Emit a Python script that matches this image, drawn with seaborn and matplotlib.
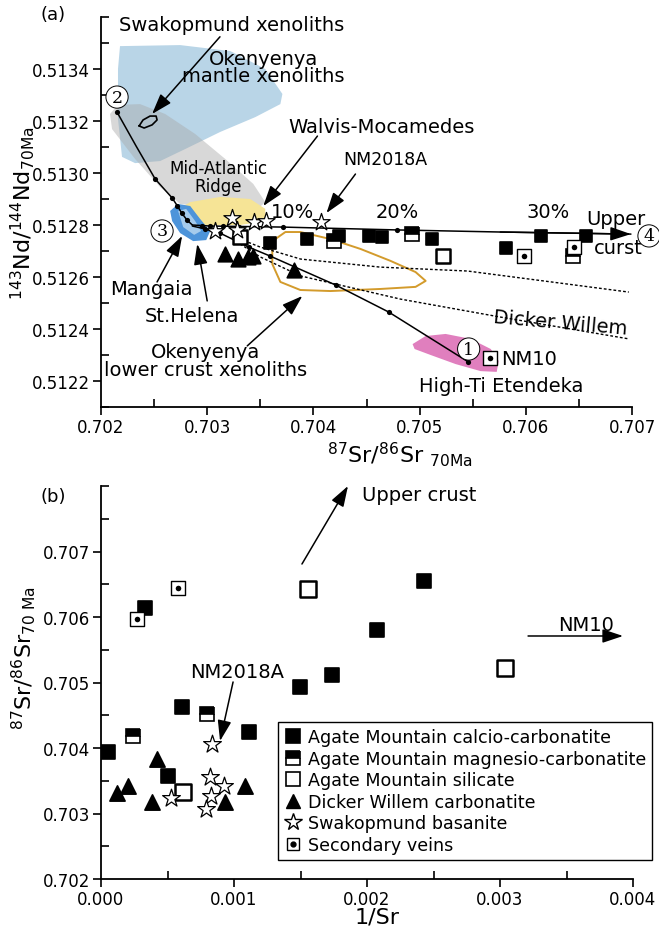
import seaborn as sns
import matplotlib.pyplot as plt
from matplotlib.lines import Line2D
from matplotlib.legend_handler import HandlerTuple
from matplotlib.ticker import FixedLocator, FormatStrFormatter

# ---------------- panel (a): 87Sr/86Sr vs 143Nd/144Nd ----------------
calcio_sr = [0.70359, 0.70394, 0.70424, 0.70452, 0.70465, 0.70512, 0.70581, 0.70614, 0.70657]
calcio_nd = [0.512731, 0.512746, 0.512758, 0.512758, 0.512754, 0.512746, 0.512712, 0.512758, 0.512758]
magnesio_sr = [0.70419, 0.70493, 0.70644]
magnesio_nd = [0.512738, 0.512765, 0.512681]
silicate_sr = [0.70331, 0.70522]
silicate_nd = [0.512754, 0.512681]
dicker_sr = [0.70317, 0.70329, 0.70338, 0.70343, 0.70382]
dicker_nd = [0.512688, 0.512669, 0.512677, 0.512681, 0.512627]
basanite_sr = [0.70307, 0.70323, 0.70328, 0.70344, 0.70355, 0.70407]
basanite_nd = [0.512777, 0.512827, 0.512781, 0.512812, 0.512815, 0.512812]
veins_sr = [0.70598, 0.70645, 0.70566]
veins_nd = [0.512681, 0.512715, 0.512288]

# mixing curves
mix23_sr = [0.70215, 0.70233, 0.70251, 0.70267, 0.70272, 0.70276, 0.70281, 0.70286]
mix23_nd = [0.513235, 0.513104, 0.512977, 0.512904, 0.512873, 0.512846, 0.512819, 0.512800]
mix23_dot_sr = [0.70215, 0.70251, 0.70267, 0.70272, 0.70276, 0.70281]
mix23_dot_nd = [0.513235, 0.512977, 0.512904, 0.512873, 0.512846, 0.512819]
mix34_sr = [0.70286, 0.70303, 0.70371, 0.70479, 0.70576, 0.70699]
mix34_nd = [0.512800, 0.512796, 0.512792, 0.512781, 0.512773, 0.512765]
mix34_dot_sr = [0.70295, 0.70303, 0.70315, 0.70330, 0.70371, 0.70479]
mix34_dot_nd = [0.512798, 0.512796, 0.512795, 0.512794, 0.512792, 0.512781]
mix31_sr = [0.70286, 0.70298, 0.70312, 0.70339, 0.70359, 0.70421, 0.70471, 0.70546]
mix31_nd = [0.512796, 0.512785, 0.512769, 0.512715, 0.512681, 0.512569, 0.512465, 0.512273]
dash_up_sr = [0.70326, 0.70350, 0.70388, 0.70463, 0.70545, 0.70624, 0.70697]
dash_up_nd = [0.512754, 0.512715, 0.512669, 0.512638, 0.512623, 0.512581, 0.512542]
dash_lo_sr = [0.70331, 0.70350, 0.70388, 0.70482, 0.70576, 0.70697]
dash_lo_nd = [0.512727, 0.512677, 0.512604, 0.512515, 0.512446, 0.512362]

# fields
mantle_sr = [0.702179, 0.702745, 0.703217, 0.703547, 0.703708, 0.703689, 0.703453,
             0.703123, 0.702792, 0.702557, 0.702321, 0.702198, 0.702160, 0.702160]
mantle_nd = [0.513488, 0.513492, 0.513469, 0.513400, 0.513304, 0.513265, 0.513215,
             0.513158, 0.513092, 0.513046, 0.513038, 0.513062, 0.513208, 0.513400]
mar_sr = [0.702085, 0.702160, 0.702368, 0.702604, 0.702887, 0.703170, 0.703434,
          0.703547, 0.703453, 0.703123, 0.702745, 0.702557, 0.702321, 0.702104]
mar_nd = [0.513227, 0.513262, 0.513265, 0.513227, 0.513150, 0.513054, 0.512958,
          0.512888, 0.512854, 0.512862, 0.512881, 0.512946, 0.513054, 0.513169]
walvis_sr = [0.702698, 0.702840, 0.703123, 0.703406, 0.703547, 0.703547, 0.703311, 0.702934, 0.702745]
walvis_nd = [0.512854, 0.512888, 0.512908, 0.512900, 0.512862, 0.512815, 0.512800, 0.512800, 0.512815]
helena_sr = [0.702651, 0.702726, 0.702840, 0.702934, 0.703028, 0.702991, 0.702868, 0.702745, 0.702670]
helena_nd = [0.512854, 0.512881, 0.512873, 0.512823, 0.512777, 0.512742, 0.512738, 0.512769, 0.512815]
mangaia_sr = [0.702726, 0.702802, 0.702887, 0.702943, 0.702877, 0.702774]
mangaia_nd = [0.512854, 0.512862, 0.512815, 0.512777, 0.512762, 0.512792]
etendeka_sr = [0.704934, 0.705057, 0.705245, 0.705481, 0.705670, 0.705745, 0.705726,
               0.705575, 0.705340, 0.705104, 0.704953]
etendeka_nd = [0.512342, 0.512373, 0.512381, 0.512362, 0.512323, 0.512277, 0.512235,
               0.512238, 0.512265, 0.512300, 0.512323]
lowcrust_sr = [0.703642, 0.703736, 0.703877, 0.704160, 0.704443, 0.704726, 0.704962, 0.705057,
               0.704962, 0.704632, 0.704160, 0.703877, 0.703689, 0.703613, 0.703613, 0.703642]
lowcrust_nd = [0.512746, 0.512773, 0.512773, 0.512746, 0.512708, 0.512662, 0.512619, 0.512585,
               0.512562, 0.512554, 0.512546, 0.512550, 0.512581, 0.512650, 0.512708, 0.512746]
swak_sr = [0.702359, 0.702396, 0.702462, 0.702519, 0.702528, 0.702481, 0.702406, 0.702359]
swak_nd = [0.513181, 0.513204, 0.513219, 0.513219, 0.513204, 0.513185, 0.513173, 0.513181]

# ---------------- panel (b): 1/Sr vs 87Sr/86Sr ----------------
b_calcio_x = [0.000331, 0.000053, 0.000609, 0.000504, 0.001113, 0.001496, 0.001737, 0.002075, 0.002429]
b_calcio_y = [0.706137, 0.703939, 0.704626, 0.703573, 0.704244, 0.704931, 0.705115, 0.705802, 0.706550]
b_magnesio_x = [0.000241, 0.000797]
b_magnesio_y = [0.704183, 0.704519]
b_silicate_x = [0.000617, 0.001556, 0.003038]
b_silicate_y = [0.703328, 0.706427, 0.705221]
b_dicker_x = [0.000120, 0.000203, 0.000421, 0.000383, 0.000932, 0.001083]
b_dicker_y = [0.703313, 0.703420, 0.703832, 0.703176, 0.703176, 0.703420]
b_basanite_x = [0.000835, 0.000820, 0.000925, 0.000827, 0.000789, 0.000526]
b_basanite_y = [0.704061, 0.703557, 0.703420, 0.703267, 0.703069, 0.703237]
b_veins_x = [0.000271, 0.000579]
b_veins_y = [0.705969, 0.706443]

legend_labels = ['Agate Mountain calcio-carbonatite', 'Agate Mountain magnesio-carbonatite',
                 'Agate Mountain silicate', 'Dicker Willem carbonatite',
                 'Swakopmund basanite', 'Secondary veins']

sns.set_style('ticks')
plt.rcParams['font.family'] = ['DejaVu Sans']
plt.rcParams.update({'text.color': 'k', 'axes.labelcolor': 'k', 'xtick.color': 'k',
                     'ytick.color': 'k', 'axes.edgecolor': 'k'})

W, H = 659, 929
fig = plt.figure(figsize=(W / 100, H / 100), dpi=100)
ax1 = fig.add_axes([101 / W, 1 - 408 / H, 531 / W, 390 / H])
ax2 = fig.add_axes([101 / W, 1 - 880 / H, 532 / W, 393 / H])

SQ = 85
arrow = dict(arrowstyle='-|>,head_length=0.9,head_width=0.3', color='k', lw=1.1,
             mutation_scale=14, shrinkA=0, shrinkB=0)


def points(ax, xs, ys, m, face, size, lw=1.2, z=5):
    sns.scatterplot(x=xs, y=ys, marker=m, s=size, color=face, edgecolor='k',
                    linewidth=lw, ax=ax, zorder=z, legend=False)


def half(ax, xs, ys, ms):
    ax.plot(xs, ys, ls='none', marker='s', ms=ms, fillstyle='top', mfc='k',
            markerfacecoloralt='w', mec='k', mew=1.2, zorder=5)


def veins(ax, xs, ys):
    points(ax, xs, ys, 's', 'w', 95, lw=1.0)
    points(ax, xs, ys, 'o', 'k', 16, lw=0, z=6)


# ---- panel (a) ----
ax = ax1
ax.fill(mantle_sr, mantle_nd, color='#b9d5e7', lw=0, zorder=1)
ax.fill(mar_sr, mar_nd, color='#a9a9a9', alpha=0.45, lw=0, zorder=1.2)
ax.fill(walvis_sr, walvis_nd, color='#f6e496', lw=0, zorder=1.4)
ax.fill(helena_sr, helena_nd, color='#4d94da', lw=0, zorder=1.6)
ax.fill(mangaia_sr, mangaia_nd, color='#a5cbec', lw=0, zorder=1.7)
ax.fill(etendeka_sr, etendeka_nd, color='#e07fbe', lw=0, zorder=1.6)
ax.plot(lowcrust_sr, lowcrust_nd, color='#d39b2c', lw=1.4, zorder=2)
ax.plot(swak_sr, swak_nd, color='k', lw=1.2, zorder=2)

ax.plot(mix23_sr, mix23_nd, color='k', lw=1.1, zorder=3)
ax.plot(mix34_sr, mix34_nd, color='k', lw=1.1, zorder=3)
ax.plot(mix31_sr, mix31_nd, color='k', lw=1.1, zorder=3)
ax.plot(dash_up_sr, dash_up_nd, color='k', lw=1.0, ls=(0, (2, 1.5)), zorder=3)
ax.plot(dash_lo_sr, dash_lo_nd, color='k', lw=1.0, ls=(0, (2, 1.5)), zorder=3)
sns.scatterplot(x=mix23_dot_sr + mix34_dot_sr + mix31_sr[1:], y=mix23_dot_nd + mix34_dot_nd + mix31_nd[1:],
                s=14, color='k', linewidth=0, ax=ax, zorder=3, legend=False)
ax.annotate('', xy=(mix34_sr[-1], mix34_nd[-1]), xytext=(mix34_sr[-2], mix34_nd[-2]),
            arrowprops=arrow, annotation_clip=False)

points(ax, calcio_sr, calcio_nd, 's', 'k', SQ)
half(ax, magnesio_sr, magnesio_nd, 9.5)
points(ax, silicate_sr, silicate_nd, 's', 'w', 110, lw=1.8)
points(ax, dicker_sr, dicker_nd, '^', 'k', 110)
points(ax, basanite_sr, basanite_nd, '*', 'w', 170, lw=0.9)
veins(ax, veins_sr, veins_nd)

fs = 14
ax.annotate('Swakopmund xenoliths', xy=(0.702481, 0.513227), xytext=(0.703226, 0.513573),
            ha='center', va='center', fontsize=fs, arrowprops=arrow, annotation_clip=False)
ax.text(0.703528, 0.513408, 'Okenyenya\nmantle xenoliths', ha='center', va='center',
        fontsize=fs, linespacing=0.85)
ax.text(0.703104, 0.512985, 'Mid-Atlantic\nRidge', ha='center', va='center', fontsize=12,
        linespacing=1.05, zorder=4)
ax.text(0.704642, 0.513177, 'Walvis-Mocamedes', ha='center', va='center', fontsize=fs)
ax.annotate('', xy=(0.703528, 0.512873), xytext=(0.704038, 0.513142), arrowprops=arrow)
ax.text(0.704679, 0.513054, 'NM2018A', ha='center', va='center', fontsize=12.5)
ax.annotate('', xy=(0.704123, 0.512846), xytext=(0.704396, 0.512996), arrowprops=arrow)
for txt, xx in [('10%', 0.703802), ('20%', 0.704792), ('30%', 0.706208)]:
    ax.text(xx, 0.512850, txt, ha='center', va='center', fontsize=fs)
ax.text(0.706849, 0.512825, 'Upper', ha='center', va='center', fontsize=fs)
ax.text(0.706868, 0.512715, 'curst', ha='center', va='center', fontsize=fs)
circ = dict(boxstyle='circle,pad=0.15', fc='white', ec='k', lw=0.7)
for num, xx, yy in [('4', 0.707160, 0.512758), ('3', 0.702575, 0.512777),
                    ('2', 0.702151, 0.513292), ('1', 0.705462, 0.512323)]:
    ax.text(xx, yy, num, ha='center', va='center', fontsize=12.5, family='DejaVu Serif',
            bbox=circ, zorder=6, clip_on=False)
ax.text(0.702472, 0.512554, 'Mangaia', ha='center', va='center', fontsize=fs)
ax.annotate('', xy=(0.702764, 0.512758), xytext=(0.702528, 0.512581), arrowprops=arrow)
ax.text(0.702858, 0.512450, 'St.Helena', ha='center', va='center', fontsize=fs)
ax.annotate('', xy=(0.702906, 0.512727), xytext=(0.703000, 0.512508), arrowprops=arrow)
ax.text(0.702981, 0.512312, 'Okenyenya', ha='center', va='center', fontsize=fs)
ax.text(0.702981, 0.512246, 'lower crust xenoliths', ha='center', va='center', fontsize=fs)
ax.annotate('', xy=(0.703896, 0.512527), xytext=(0.703377, 0.512335), arrowprops=arrow)
ax.text(0.706330, 0.512427, 'Dicker Willem', ha='center', va='center', fontsize=fs, rotation=-5)
ax.text(0.705764, 0.512288, 'NM10', ha='left', va='center', fontsize=fs)
ax.text(0.705764, 0.512181, 'High-Ti Etendeka', ha='center', va='center', fontsize=fs)

ax.set_xlim(0.702, 0.707)
ax.set_ylim(0.5121, 0.5136)
ax.xaxis.set_major_locator(FixedLocator([0.702, 0.703, 0.704, 0.705, 0.706, 0.707]))
ax.xaxis.set_minor_locator(FixedLocator([0.7025, 0.7035, 0.7045, 0.7055, 0.7065]))
ax.yaxis.set_major_locator(FixedLocator([0.5122, 0.5124, 0.5126, 0.5128, 0.5130, 0.5132, 0.5134]))
ax.yaxis.set_minor_locator(FixedLocator([0.5121, 0.5123, 0.5125, 0.5127, 0.5129, 0.5131,
                                         0.5133, 0.5135, 0.5136]))
ax.xaxis.set_major_formatter(FormatStrFormatter('%.3f'))
ax.yaxis.set_major_formatter(FormatStrFormatter('%.4f'))
ax.set_xlabel(r'$^{87}$Sr/$^{86}$Sr $_{\rm 70Ma}$', fontsize=16)
ax.set_ylabel(r'$^{143}$Nd/$^{144}$Nd$_{\rm 70Ma}$', fontsize=16)
ax.xaxis.set_label_coords(0.563, -0.082)
ax.yaxis.set_label_coords(-0.12, 0.5)

# ---- panel (b) ----
ax = ax2
points(ax, b_calcio_x, b_calcio_y, 's', 'k', 95)
half(ax, b_magnesio_x, b_magnesio_y, 10)
points(ax, b_silicate_x, b_silicate_y, 's', 'w', 120, lw=1.8)
points(ax, b_dicker_x, b_dicker_y, '^', 'k', 120)
points(ax, b_basanite_x, b_basanite_y, '*', 'w', 180, lw=0.9)
veins(ax, b_veins_x, b_veins_y)

ax.annotate('', xy=(0.001857, 0.708000), xytext=(0.001511, 0.706809), arrowprops=arrow,
            annotation_clip=False)
ax.text(0.001962, 0.707870, 'Upper crust', ha='left', va='center', fontsize=fs)
ax.annotate('', xy=(0.003925, 0.705710), xytext=(0.003211, 0.705710), arrowprops=arrow)
ax.text(0.003650, 0.705880, 'NM10', ha='center', va='center', fontsize=fs)
ax.text(0.001023, 0.705175, 'NM2018A', ha='center', va='center', fontsize=fs)
ax.annotate('', xy=(0.000895, 0.704107), xytext=(0.000993, 0.705008), arrowprops=arrow)

ax.set_xlim(0, 0.004)
ax.set_ylim(0.702, 0.708)
ax.xaxis.set_major_locator(FixedLocator([0.000, 0.001, 0.002, 0.003, 0.004]))
ax.xaxis.set_minor_locator(FixedLocator([0.0005, 0.0015, 0.0025, 0.0035]))
ax.yaxis.set_major_locator(FixedLocator([0.702, 0.703, 0.704, 0.705, 0.706, 0.707]))
ax.yaxis.set_minor_locator(FixedLocator([0.7025, 0.7035, 0.7045, 0.7055, 0.7065, 0.7075, 0.708]))
ax.xaxis.set_major_formatter(FormatStrFormatter('%.3f'))
ax.yaxis.set_major_formatter(FormatStrFormatter('%.3f'))
ax.set_xlabel('1/Sr', fontsize=16)
ax.set_ylabel(r'$^{87}$Sr/$^{86}$Sr$_{\rm 70\ Ma}$', fontsize=16)
ax.xaxis.set_label_coords(0.519, -0.069)
ax.yaxis.set_label_coords(-0.118, 0.565)

sq = dict(ls='none', marker='s', ms=10, mec='k', mew=1.2)
handles = [Line2D([], [], mfc='k', **sq),
           Line2D([], [], fillstyle='top', mfc='k', markerfacecoloralt='w', **sq),
           Line2D([], [], mfc='w', **sq),
           Line2D([], [], ls='none', marker='^', ms=10, mfc='k', mec='k'),
           Line2D([], [], ls='none', marker='*', ms=13, mfc='w', mec='k', mew=1.0),
           (Line2D([], [], ls='none', marker='s', ms=8, mfc='w', mec='k', mew=1.0),
            Line2D([], [], ls='none', marker='o', ms=3.5, mfc='k', mec='k'))]
leg = ax.legend(handles, legend_labels, loc='upper left', bbox_to_anchor=(278 / W, 1 - 723 / H),
                bbox_transform=fig.transFigure, fontsize=12.6, frameon=True, fancybox=False,
                edgecolor='k', framealpha=1, handlelength=1.0, handletextpad=0.35,
                labelspacing=0.2, borderpad=0.35, borderaxespad=0,
                handler_map={tuple: HandlerTuple(ndivide=1)})
leg.get_frame().set_linewidth(1.0)

for a in (ax1, ax2):
    sns.despine(ax=a)
    a.spines['left'].set_linewidth(1.3)
    a.spines['bottom'].set_linewidth(1.3)
    a.tick_params(which='major', direction='out', length=6, width=1.2, labelsize=12, pad=2,
                  colors='k')
    a.tick_params(which='minor', direction='in', length=6, width=1.2)

fig.text(40 / W, 1 - 15 / H, '(a)', fontsize=13, va='center')
fig.text(40 / W, 1 - 497 / H, '(b)', fontsize=13, va='center')

fig.savefig('out.png', dpi=100)
